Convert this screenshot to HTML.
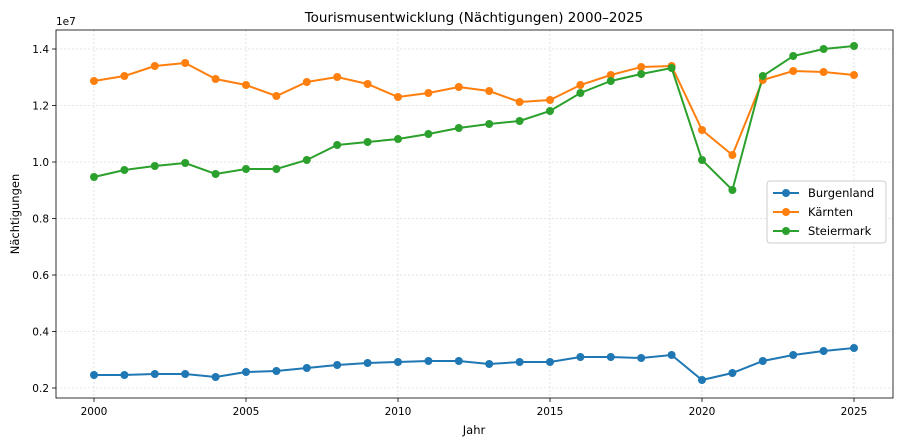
<!DOCTYPE html>
<html><head><meta charset="utf-8"><style>body{margin:0;background:#fff}svg{display:block;font-family:"DejaVu Sans","Liberation Sans",sans-serif}</style></head>
<body>
<svg width="900" height="445" viewBox="0 0 900 445">
<rect width="900" height="445" fill="#fff"/>
<text x="474" y="22" font-size="13.5" text-anchor="middle" fill="#000">Tourismusentwicklung (Nächtigungen) 2000–2025</text>
<g stroke="#ccc" stroke-width="0.6" stroke-dasharray="2,2">
<line x1="94" y1="30" x2="94" y2="398"/><line x1="246" y1="30" x2="246" y2="398"/><line x1="398" y1="30" x2="398" y2="398"/><line x1="550" y1="30" x2="550" y2="398"/><line x1="702" y1="30" x2="702" y2="398"/><line x1="854" y1="30" x2="854" y2="398"/>
<line x1="56" y1="388" x2="893" y2="388"/><line x1="56" y1="331.5" x2="893" y2="331.5"/><line x1="56" y1="275" x2="893" y2="275"/><line x1="56" y1="218.5" x2="893" y2="218.5"/><line x1="56" y1="162" x2="893" y2="162"/><line x1="56" y1="105.5" x2="893" y2="105.5"/><line x1="56" y1="49" x2="893" y2="49"/>
</g>
<rect x="56" y="30" width="837" height="368" fill="none" stroke="#000" stroke-width="0.8"/>
<g stroke="#000" stroke-width="0.8">
<line x1="94" y1="398" x2="94" y2="402"/><line x1="246" y1="398" x2="246" y2="402"/><line x1="398" y1="398" x2="398" y2="402"/><line x1="550" y1="398" x2="550" y2="402"/><line x1="702" y1="398" x2="702" y2="402"/><line x1="854" y1="398" x2="854" y2="402"/>
<line x1="52" y1="388" x2="56" y2="388"/><line x1="52" y1="331.5" x2="56" y2="331.5"/><line x1="52" y1="275" x2="56" y2="275"/><line x1="52" y1="218.5" x2="56" y2="218.5"/><line x1="52" y1="162" x2="56" y2="162"/><line x1="52" y1="105.5" x2="56" y2="105.5"/><line x1="52" y1="49" x2="56" y2="49"/>
</g>
<g font-size="10.5" fill="#000" text-anchor="middle">
<text x="94" y="415">2000</text><text x="246" y="415">2005</text><text x="398" y="415">2010</text><text x="550" y="415">2015</text><text x="702" y="415">2020</text><text x="854" y="415">2025</text>
</g>
<g font-size="10.5" fill="#000" text-anchor="end">
<text x="49" y="392">0.2</text><text x="49" y="335.5">0.4</text><text x="49" y="279">0.6</text><text x="49" y="222.5">0.8</text><text x="49" y="166">1.0</text><text x="49" y="109.5">1.2</text><text x="49" y="53">1.4</text>
</g>
<text x="56" y="25" font-size="10.5">1e7</text>
<text x="474" y="434" font-size="11.5" text-anchor="middle">Jahr</text>
<text transform="translate(19,214) rotate(-90)" font-size="11.5" text-anchor="middle">Nächtigungen</text>
<polyline fill="none" stroke="#1f77b4" stroke-width="2" points="94,375 124.4,375 154.8,374 185.2,374 215.6,377 246,372 276.4,371 306.8,368 337.2,365 367.6,363 398,362 428.4,361 458.8,361 489.2,364 519.6,362 550,362 580.4,357 610.8,357 641.2,358 671.6,355 702,380 732.4,373 762.8,361 793.2,355 823.6,351 854,348"/>
<polyline fill="none" stroke="#ff7f0e" stroke-width="2" points="94,81 124.4,76 154.8,66 185.2,63 215.6,79 246,85 276.4,96 306.8,82 337.2,77 367.6,84 398,97 428.4,93 458.8,87 489.2,91 519.6,102 550,100 580.4,85 610.8,75 641.2,67 671.6,66 702,130 732.4,155 762.8,80 793.2,71 823.6,72 854,75"/>
<polyline fill="none" stroke="#2ca02c" stroke-width="2" points="94,177 124.4,170 154.8,166 185.2,163 215.6,174 246,169 276.4,169 306.8,160 337.2,145 367.6,142 398,139 428.4,134 458.8,128 489.2,124 519.6,121 550,111 580.4,93 610.8,81 641.2,74 671.6,68 702,160 732.4,190 762.8,76 793.2,56 823.6,49 854,46"/>
<g fill="#1f77b4"><circle cx="94" cy="375" r="4"/><circle cx="124.4" cy="375" r="4"/><circle cx="154.8" cy="374" r="4"/><circle cx="185.2" cy="374" r="4"/><circle cx="215.6" cy="377" r="4"/><circle cx="246" cy="372" r="4"/><circle cx="276.4" cy="371" r="4"/><circle cx="306.8" cy="368" r="4"/><circle cx="337.2" cy="365" r="4"/><circle cx="367.6" cy="363" r="4"/><circle cx="398" cy="362" r="4"/><circle cx="428.4" cy="361" r="4"/><circle cx="458.8" cy="361" r="4"/><circle cx="489.2" cy="364" r="4"/><circle cx="519.6" cy="362" r="4"/><circle cx="550" cy="362" r="4"/><circle cx="580.4" cy="357" r="4"/><circle cx="610.8" cy="357" r="4"/><circle cx="641.2" cy="358" r="4"/><circle cx="671.6" cy="355" r="4"/><circle cx="702" cy="380" r="4"/><circle cx="732.4" cy="373" r="4"/><circle cx="762.8" cy="361" r="4"/><circle cx="793.2" cy="355" r="4"/><circle cx="823.6" cy="351" r="4"/><circle cx="854" cy="348" r="4"/></g>
<g fill="#ff7f0e"><circle cx="94" cy="81" r="4"/><circle cx="124.4" cy="76" r="4"/><circle cx="154.8" cy="66" r="4"/><circle cx="185.2" cy="63" r="4"/><circle cx="215.6" cy="79" r="4"/><circle cx="246" cy="85" r="4"/><circle cx="276.4" cy="96" r="4"/><circle cx="306.8" cy="82" r="4"/><circle cx="337.2" cy="77" r="4"/><circle cx="367.6" cy="84" r="4"/><circle cx="398" cy="97" r="4"/><circle cx="428.4" cy="93" r="4"/><circle cx="458.8" cy="87" r="4"/><circle cx="489.2" cy="91" r="4"/><circle cx="519.6" cy="102" r="4"/><circle cx="550" cy="100" r="4"/><circle cx="580.4" cy="85" r="4"/><circle cx="610.8" cy="75" r="4"/><circle cx="641.2" cy="67" r="4"/><circle cx="671.6" cy="66" r="4"/><circle cx="702" cy="130" r="4"/><circle cx="732.4" cy="155" r="4"/><circle cx="762.8" cy="80" r="4"/><circle cx="793.2" cy="71" r="4"/><circle cx="823.6" cy="72" r="4"/><circle cx="854" cy="75" r="4"/></g>
<g fill="#2ca02c"><circle cx="94" cy="177" r="4"/><circle cx="124.4" cy="170" r="4"/><circle cx="154.8" cy="166" r="4"/><circle cx="185.2" cy="163" r="4"/><circle cx="215.6" cy="174" r="4"/><circle cx="246" cy="169" r="4"/><circle cx="276.4" cy="169" r="4"/><circle cx="306.8" cy="160" r="4"/><circle cx="337.2" cy="145" r="4"/><circle cx="367.6" cy="142" r="4"/><circle cx="398" cy="139" r="4"/><circle cx="428.4" cy="134" r="4"/><circle cx="458.8" cy="128" r="4"/><circle cx="489.2" cy="124" r="4"/><circle cx="519.6" cy="121" r="4"/><circle cx="550" cy="111" r="4"/><circle cx="580.4" cy="93" r="4"/><circle cx="610.8" cy="81" r="4"/><circle cx="641.2" cy="74" r="4"/><circle cx="671.6" cy="68" r="4"/><circle cx="702" cy="160" r="4"/><circle cx="732.4" cy="190" r="4"/><circle cx="762.8" cy="76" r="4"/><circle cx="793.2" cy="56" r="4"/><circle cx="823.6" cy="49" r="4"/><circle cx="854" cy="46" r="4"/></g>
<rect x="767" y="181" width="119" height="62" rx="3" fill="#fff" fill-opacity="0.85" stroke="#ccc"/>
<line x1="773" y1="193" x2="799" y2="193" stroke="#1f77b4" stroke-width="2"/><circle cx="786" cy="193" r="4" fill="#1f77b4"/>
<line x1="773" y1="212" x2="799" y2="212" stroke="#ff7f0e" stroke-width="2"/><circle cx="786" cy="212" r="4" fill="#ff7f0e"/>
<line x1="773" y1="231" x2="799" y2="231" stroke="#2ca02c" stroke-width="2"/><circle cx="786" cy="231" r="4" fill="#2ca02c"/>
<g font-size="11.5" fill="#000"><text x="808" y="197">Burgenland</text><text x="808" y="216">Kärnten</text><text x="808" y="235">Steiermark</text></g>
</svg>
</body></html>
